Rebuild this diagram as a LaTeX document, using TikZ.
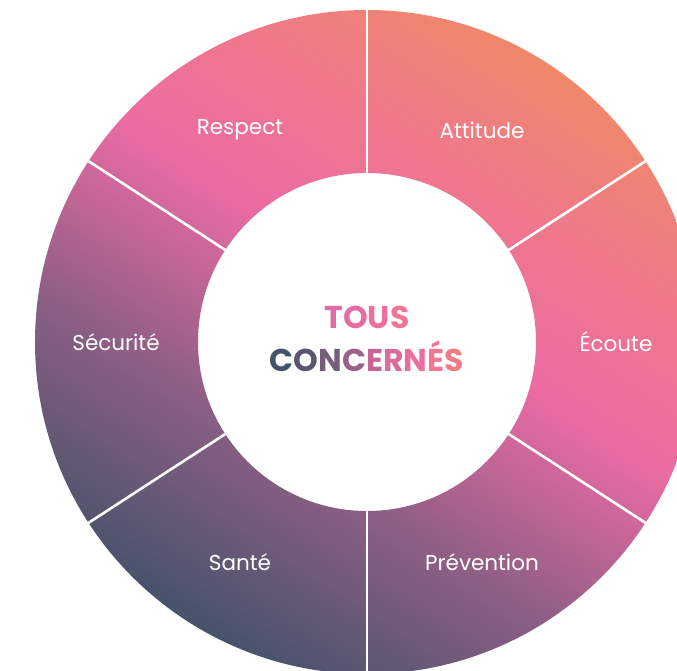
\documentclass[tikz,border=0pt]{standalone}
\usepackage{fontspec}
\setmainfont{Poppins}
\usepackage{tikz}
\usetikzlibrary{calc}

\definecolor{slate}{HTML}{3D5266}
\definecolor{plum}{HTML}{905F86}
\definecolor{rose}{HTML}{EC6BA3}
\definecolor{salmon}{HTML}{EF7A88}
\definecolor{apricot}{HTML}{F08C60}
\pgfdeclareverticalshading{wheel}{100bp}{color(0bp)=(slate); color(23bp)=(slate); color(40bp)=(plum); color(54bp)=(rose); color(66bp)=(salmon); color(78bp)=(apricot); color(100bp)=(apricot)}

\begin{document}
\begin{tikzpicture}[x=1pt, y=1pt,
  sector/.style={text=white, font=\fontsize{21.5}{25}\selectfont},
  title/.style={font=\fontsize{31.5}{34}\bfseries},
  split/.style={white, line width=2.6pt}]

  \useasboundingbox (-367,-328) rectangle (310,342);
  \clip (-367,-328) rectangle (310,342);

  % ring
  \path[even odd rule, shading=wheel, shading angle=-33]
    (0,0) circle (332pt) (0,0) circle (169pt);
  \foreach \a in {90,33,-33,-90,-147,147}
    \draw[split] (\a:169pt) -- (\a:333pt);

  \node[sector] (attitude) at (115,212) {Attitude};
  \node[sector] (ecoute) at (249,0) {Écoute};
  \node[sector] (prevention) at (115,-220) {Prévention};
  \node[sector] (sante) at (-127,-220) {Santé};
  \node[sector] (securite) at (-251,0) {Sécurité};
  \node[sector] (respect) at (-127,212) {Respect};

  \node[title] (tous) at (0,25)
    {\color[HTML]{DF6CA6}T\color[HTML]{E86BA4}O\color[HTML]{EE6E9E}U\color[HTML]{F07494}S};
  \node[title] (concernes) at (0,-14)
    {\color[HTML]{435468}C\color[HTML]{5A5670}O\color[HTML]{775C7C}N\color[HTML]{9C6287}C\color[HTML]{C36694}E\color[HTML]{DD6A9C}R\color[HTML]{EC6E9C}N\color[HTML]{F07692}É\color[HTML]{F07D85}S};
\end{tikzpicture}
\end{document}
